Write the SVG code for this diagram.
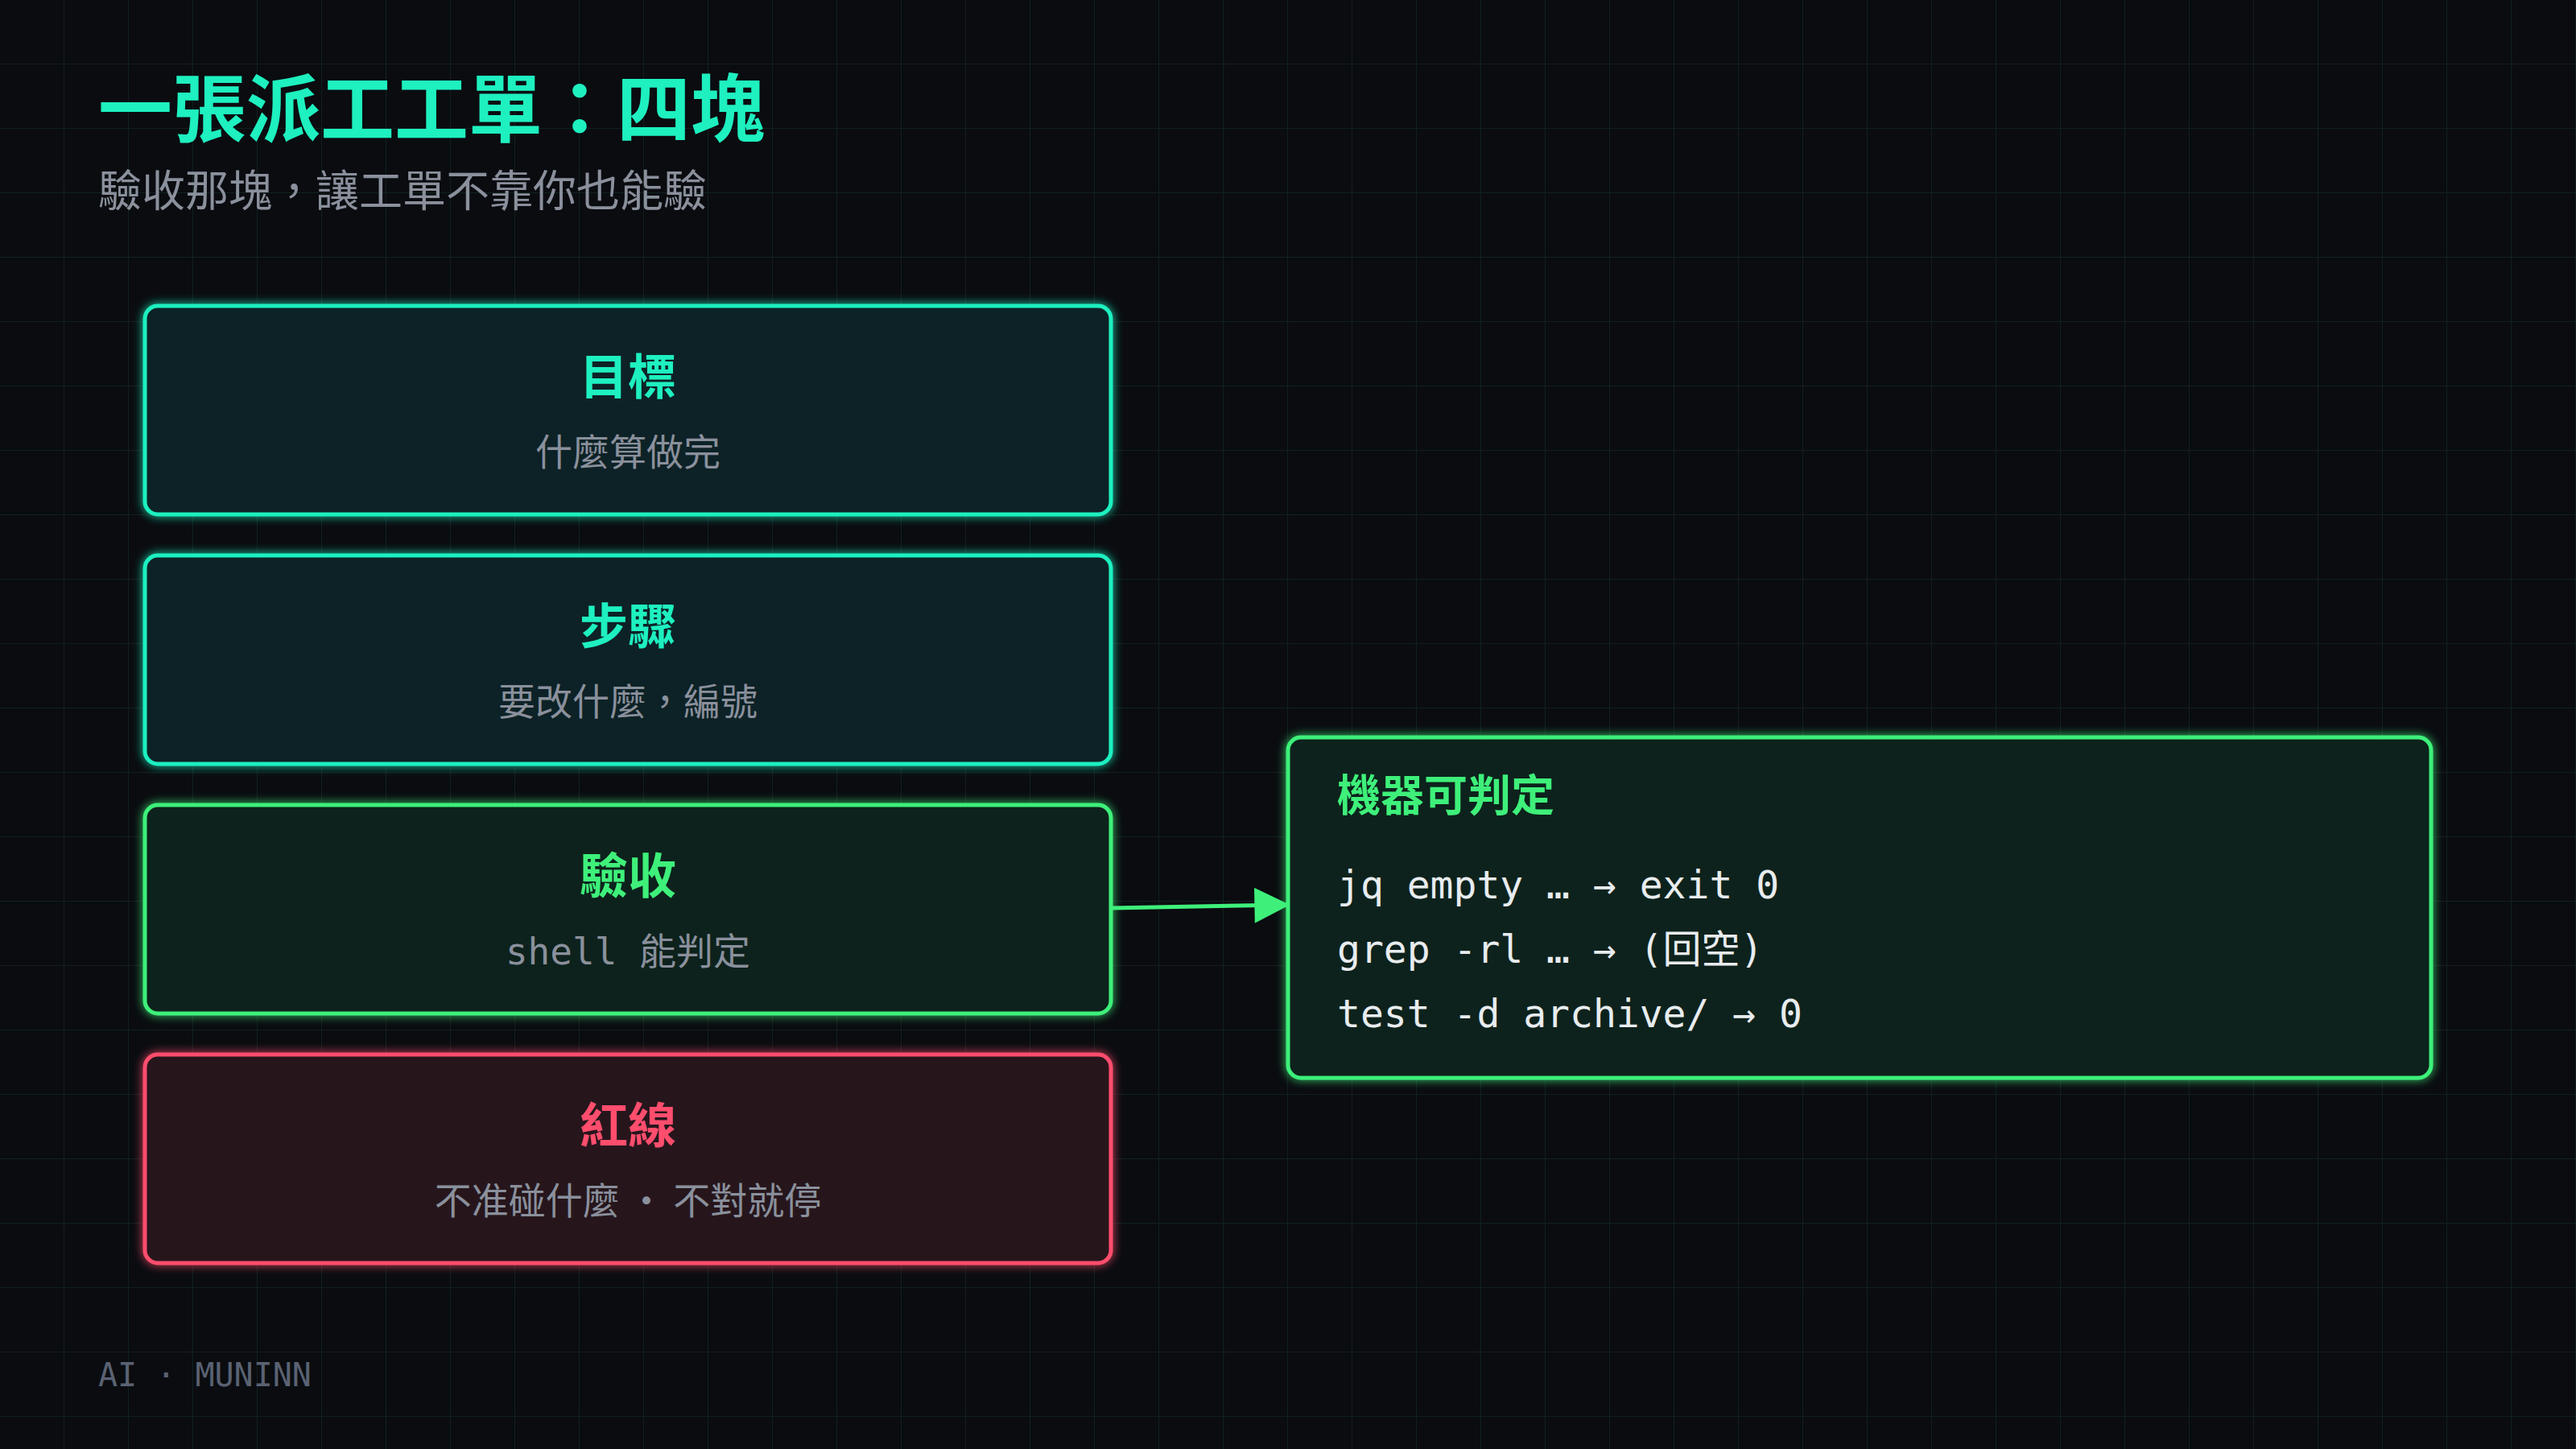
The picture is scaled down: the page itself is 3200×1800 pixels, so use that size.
<svg xmlns="http://www.w3.org/2000/svg" width="3200" height="1800" viewBox="0 0 3200 1800">
<defs>
<pattern id="grid" width="80" height="80" patternUnits="userSpaceOnUse"><path d="M80 0V80H0" fill="none" stroke="#12201e" stroke-width="2"/></pattern>
<filter id="glow" x="-10%" y="-20%" width="120%" height="140%"><feGaussianBlur stdDeviation="6" result="b"/><feMerge><feMergeNode in="b"/><feMergeNode in="SourceGraphic"/></feMerge></filter>
<marker id="ah2" viewBox="0 0 10 10" refX="9" refY="5" markerWidth="48" markerHeight="44" markerUnits="userSpaceOnUse" orient="auto"><path d="M0 0L10 5L0 10Z" fill="#3ef07a"/></marker>
</defs>
<style>
.t{font-family:"Noto Sans CJK TC","Noto Sans",sans-serif;font-weight:700}
.s{font-family:"Noto Sans CJK TC","Noto Sans",sans-serif;fill:#8a909c}
.m{font-family:"DejaVu Sans Mono","Noto Sans CJK TC",monospace;fill:#e8ecef;font-size:48px}
.teal{fill:#0a2426;stroke:#1ef0c0;stroke-width:5}
.grn{fill:#10221a;stroke:#3ef07a;stroke-width:5}
.red{fill:#26121a;stroke:#ff4d6d;stroke-width:5}
</style>
<rect width="3200" height="1800" fill="#0a0c10"/>
<rect width="3200" height="1800" fill="url(#grid)"/>
<text x="122" y="169" class="t" font-size="92" fill="#1ef0c0">一張派工工單：四塊</text>
<text x="122" y="257" class="s" font-size="54">驗收那塊，讓工單不靠你也能驗</text>
<g id="n1"><rect x="180" y="380" width="1200" height="259" rx="16" class="teal" filter="url(#glow)"/>
<text x="780" y="490" class="t" font-size="60" fill="#1ef0c0" text-anchor="middle">目標</text>
<text x="780" y="578" class="s" font-size="46" text-anchor="middle">什麼算做完</text></g>
<g id="n2"><rect x="180" y="690" width="1200" height="259" rx="16" class="teal" filter="url(#glow)"/>
<text x="780" y="800" class="t" font-size="60" fill="#1ef0c0" text-anchor="middle">步驟</text>
<text x="780" y="888" class="s" font-size="46" text-anchor="middle">要改什麼，編號</text></g>
<g id="n3"><rect x="180" y="1000" width="1200" height="259" rx="16" class="grn" filter="url(#glow)"/>
<text x="780" y="1110" class="t" font-size="60" fill="#3ef07a" text-anchor="middle">驗收</text>
<text x="780" y="1198" class="s" font-size="46" text-anchor="middle"><tspan font-family="DejaVu Sans Mono">shell </tspan>能判定</text></g>
<g id="n4"><rect x="180" y="1310" width="1200" height="259" rx="16" class="red" filter="url(#glow)"/>
<text x="780" y="1420" class="t" font-size="60" fill="#ff4d6d" text-anchor="middle">紅線</text>
<text x="780" y="1508" class="s" font-size="46" text-anchor="middle">不准碰什麼 · 不對就停</text></g>
<g id="n5"><rect x="1600" y="916" width="1420" height="423" rx="16" class="grn" filter="url(#glow)"/>
<text x="1661" y="1008" class="t" font-size="54" fill="#3ef07a">機器可判定</text>
<text x="1661" y="1116" class="m">jq empty … → exit 0</text>
<text x="1661" y="1196" class="m">grep -rl … → (回空)</text>
<text x="1661" y="1276" class="m">test -d archive/ → 0</text></g>
<g id="connectors"><line x1="1382" y1="1128" x2="1598" y2="1124" stroke="#3ef07a" stroke-width="5" marker-end="url(#ah2)"/></g>
<text x="122" y="1722" font-family="DejaVu Sans Mono,monospace" font-size="40" fill="#5a6272">AI · MUNINN</text>
</svg>
